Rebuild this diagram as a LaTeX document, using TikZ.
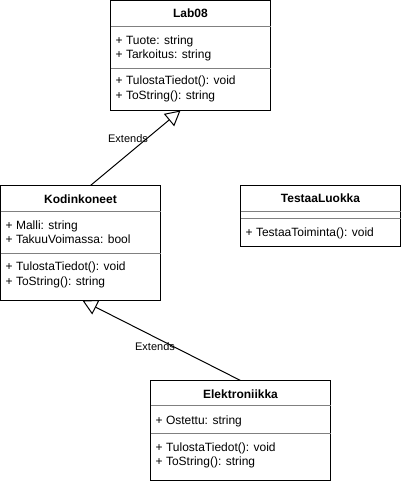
\documentclass[tikz,border=0pt]{standalone}
\usepackage{fontspec}
\setmainfont{Liberation Sans}
\usetikzlibrary{arrows.meta,calc}
\begin{document}
\begin{tikzpicture}[x=1pt,y=-1pt,
  classbox/.style={draw=black,line width=1pt,inner sep=0pt,outer sep=0pt,anchor=north west},
  sepline/.style={draw=gray,line width=1pt},
  title/.style={font=\fontsize{12}{14}\selectfont\bfseries,anchor=base,inner sep=0pt},
  member/.style={font=\fontsize{12}{14}\selectfont,anchor=base west,inner sep=0pt},
  extends/.style={line width=1pt,-{Triangle[open,length=15pt,width=16pt]}},
  lbl/.style={font=\fontsize{11}{13}\selectfont,inner sep=0.5pt}
]
\useasboundingbox (0,0) rectangle (401,481);

% Lab08
\node[classbox,minimum width=160pt,minimum height=110pt] (lab) at (110.5,0.5) {};
\draw[sepline] ($(lab.north west)+(0,26)$) -- ($(lab.north east)+(0,26)$);
\draw[sepline] ($(lab.north west)+(0,68)$) -- ($(lab.north east)+(0,68)$);
\node[title] (labT) at ($(lab.north)+(0,17.5)$) {Lab08};
\node[member] (labA1) at ($(lab.north west)+(5,44.5)$) {+ Tuote: string};
\node[member] (labA2) at ($(lab.north west)+(5,58.5)$) {+ Tarkoitus: string};
\node[member] (labM1) at ($(lab.north west)+(5,84.5)$) {+ TulostaTiedot(): void};
\node[member] (labM2) at ($(lab.north west)+(5,99)$) {+ ToString(): string};

% Kodinkoneet
\node[classbox,minimum width=160pt,minimum height=115pt] (kod) at (0.5,185.5) {};
\draw[sepline] ($(kod.north west)+(0,26)$) -- ($(kod.north east)+(0,26)$);
\draw[sepline] ($(kod.north west)+(0,67.5)$) -- ($(kod.north east)+(0,67.5)$);
\node[title] (kodT) at ($(kod.north)+(0,17.5)$) {Kodinkoneet};
\node[member] (kodA1) at ($(kod.north west)+(5,43.5)$) {+ Malli: string};
\node[member] (kodA2) at ($(kod.north west)+(5,58)$) {+ TakuuVoimassa: bool};
\node[member] (kodM1) at ($(kod.north west)+(5,85)$) {+ TulostaTiedot(): void};
\node[member] (kodM2) at ($(kod.north west)+(5,100)$) {+ ToString(): string};

% TestaaLuokka
\node[classbox,minimum width=160pt,minimum height=61pt] (tes) at (240.5,185.5) {};
\draw[sepline] ($(tes.north west)+(0,25.5)$) -- ($(tes.north east)+(0,25.5)$);
\draw[sepline] ($(tes.north west)+(0,32.5)$) -- ($(tes.north east)+(0,32.5)$);
\node[title] (tesT) at ($(tes.north)+(0,17)$) {TestaaLuokka};
\node[member] (tesM1) at ($(tes.north west)+(5,51)$) {+ TestaaToiminta(): void};

% Elektroniikka
\node[classbox,minimum width=180pt,minimum height=100pt] (ele) at (150.5,380.5) {};
\draw[sepline] ($(ele.north west)+(0,25)$) -- ($(ele.north east)+(0,25)$);
\draw[sepline] ($(ele.north west)+(0,53)$) -- ($(ele.north east)+(0,53)$);
\node[title] (eleT) at ($(ele.north)+(0,17.5)$) {Elektroniikka};
\node[member] (eleA1) at ($(ele.north west)+(5,44)$) {+ Ostettu: string};
\node[member] (eleM1) at ($(ele.north west)+(5,71)$) {+ TulostaTiedot(): void};
\node[member] (eleM2) at ($(ele.north west)+(5,84.5)$) {+ ToString(): string};

% Generalisations
\draw[extends] ($(kod.north west)!0.5625!(kod.north east)$) -- ($(lab.south west)!0.4375!(lab.south east)$);
\node[lbl] (ext1) at (128,139) {Extends};
\draw[extends] ($(ele.north west)!0.5!(ele.north east)$) -- ($(kod.south west)!0.5125!(kod.south east)$);
\node[lbl] (ext2) at (155,347) {Extends};
\end{tikzpicture}
\end{document}
